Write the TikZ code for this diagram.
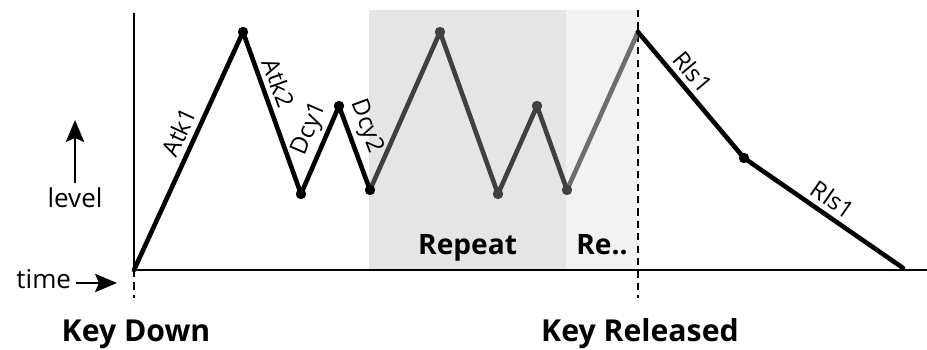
\documentclass[tikz,border=0pt]{standalone}
\usepackage{fontspec}
\setmainfont{Open Sans}
\usepackage{tikz}
\usetikzlibrary{arrows.meta}
\definecolor{repeatfill}{HTML}{E5E5E5}
\definecolor{loopfill}{HTML}{F2F2F2}
\definecolor{loopink}{HTML}{404040}
\definecolor{fadeink}{HTML}{6E6E6E}

\begin{document}
\begin{tikzpicture}[
    env/.style={line width=0.115cm, line cap=round, line join=round},
    seglabel/.style={sloped, above, inner sep=3.5pt, font=\fontsize{17}{20}\selectfont},
    keylabel/.style={anchor=base, font=\fontsize{21.5}{26}\selectfont\bfseries},
    looplabel/.style={anchor=base, font=\fontsize{20}{24}\selectfont\bfseries},
    hintlabel/.style={font=\fontsize{18.5}{22}\selectfont},
    keyline/.style={line width=0.05cm, dash pattern=on 0.18cm off 0.13cm},
    pointer/.style={line width=0.045cm, -{Stealth[length=0.55cm,width=0.46cm,inset=0.1cm]}}]
  \useasboundingbox (0,0) rectangle (23.175,8.75);

  % ── Loop shading (Repeat, then the cut-off repeat) ──────────────────────
  \fill[repeatfill] (9.225,2.0) rectangle (14.15,8.5);
  \fill[loopfill]   (14.15,2.0) rectangle (15.95,8.5);
  \node[looplabel] (rep)  at (11.69,2.375) {Repeat};
  \node[looplabel] (rep2) at (15.05,2.375) {Re..};

  % ── Axes ────────────────────────────────────────────────────────────────
  \coordinate (origin) at (3.35,2.0);
  \coordinate (ytop)   at (3.35,8.425);
  \coordinate (xend)   at (23.175,2.0);
  \draw[line width=0.045cm] (ytop) -- (origin) -- (xend);

  % ── Key markers ─────────────────────────────────────────────────────────
  \coordinate (kdbot) at (3.35,1.3);
  \coordinate (krtop) at (15.95,8.5);
  \coordinate (krbot) at (15.95,1.3);
  \draw[keyline] (origin) -- (kdbot);
  \draw[keyline] (krtop) -- (krbot);
  \node[keylabel] (kd) at (3.4,0.2) {Key Down};
  \node[keylabel] (kr) at (16.0,0.2) {Key Released};

  % ── Axis hints ──────────────────────────────────────────────────────────
  \node[hintlabel, anchor=base] (lev) at (1.875,3.55) {level};
  \coordinate (levtip) at (1.875,5.75);
  \draw[pointer] (lev) -- (levtip);
  \node[hintlabel, anchor=base east] (tm) at (1.9,1.525) {time};
  \coordinate (timetip) at (2.925,1.675);
  \draw[pointer] (tm.east |- timetip) -- (timetip);

  % ── Envelope points ─────────────────────────────────────────────────────
  \foreach \n/\x/\y in {
    p0/3.35/2.0,    p1/6.075/7.95,  p2/7.525/3.9,   p3/8.475/6.1,
    p4/9.25/4.0,    p5/11.0/7.95,   p6/12.45/3.9,   p7/13.425/6.1,
    p8/14.175/4.0,  p9/15.95/7.95,  p10/18.6/4.8,   p11/22.575/2.05}{
    \coordinate (\n) at (\x,\y);
  }

  % ── Envelope segments ───────────────────────────────────────────────────
  \draw[env] (p0) -- node[seglabel, pos=0.55] (atk1) {Atk1} (p1)
                  -- node[seglabel, pos=0.35] (atk2) {Atk2} (p2)
                  -- node[seglabel, pos=0.66, inner sep=2.5pt] (dcy1) {Dcy1} (p3)
                  -- node[seglabel, pos=0.32] (dcy2) {Dcy2} (p4);
  \draw[env, loopink] (p4) -- (p5) -- (p6) -- (p7) -- (p8);
  \draw[env, fadeink] (p8) -- (p9);
  \draw[env] (p9) -- node[seglabel, pos=0.4] (rls1) {Rls1} (p10)
                  -- node[seglabel, pos=0.5] (rls2) {Rls1} (p11);

  % dots
  \foreach \n in {p1,p2,p3,p4,p10}{
    \fill (\n) circle (0.13);
  }
  \foreach \n in {p5,p6,p7,p8}{
    \fill[loopink] (\n) circle (0.13);
  }
\end{tikzpicture}
\end{document}
